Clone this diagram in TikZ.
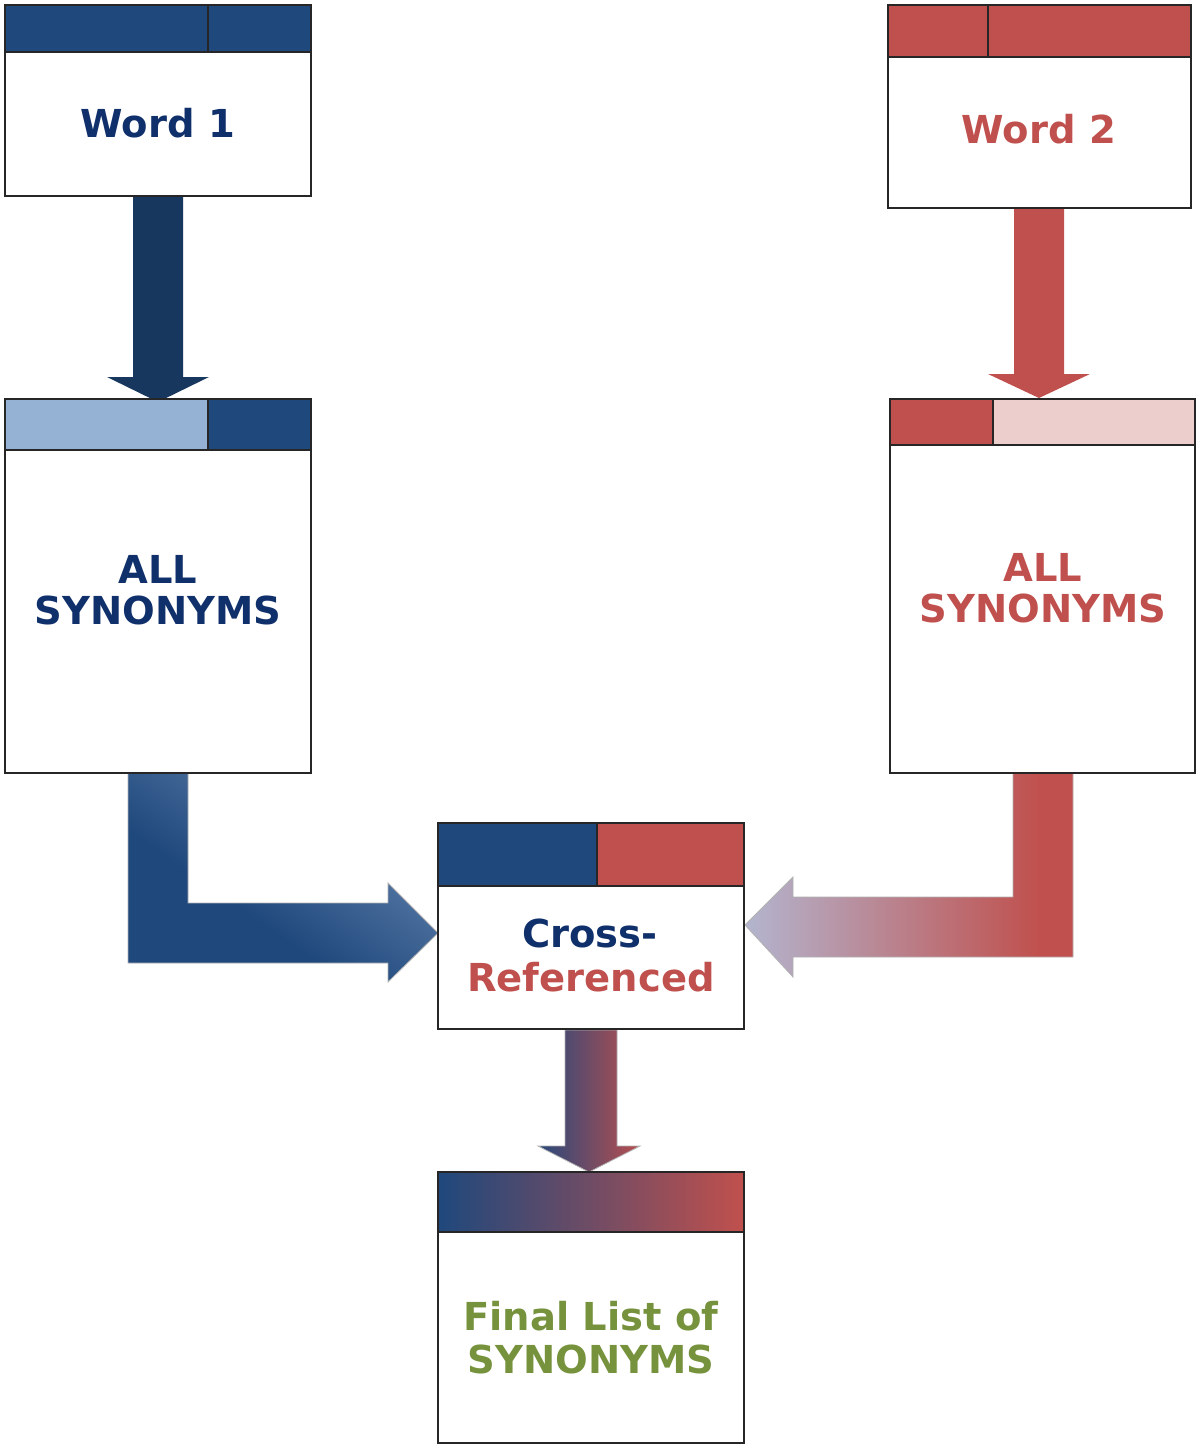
\documentclass[tikz,border=0pt]{standalone}
\usepackage{fontspec}
\setmainfont{DejaVu Sans}
\definecolor{hblue}{HTML}{1F487C}
\definecolor{navyarrow}{HTML}{17375E}
\definecolor{hred}{HTML}{C0504D}
\definecolor{lblue}{HTML}{95B1D3}
\definecolor{lpink}{HTML}{ECCECC}
\definecolor{tnavy}{HTML}{10306B}
\definecolor{tgreen}{HTML}{76923C}
\definecolor{blight}{HTML}{4C709E}
\definecolor{lav}{HTML}{B3B5CF}
\definecolor{mblue}{HTML}{28497C}
\definecolor{mred}{HTML}{B84E4E}
\pgfdeclarehorizontalshading{blueL}{100bp}{color(0bp)=(hblue); color(25bp)=(hblue); color(40bp)=(hblue); color(62bp)=(blight); color(100bp)=(blight)}
\pgfdeclarehorizontalshading{redL}{100bp}{color(0bp)=(lav); color(25bp)=(lav); color(70bp)=(hred); color(100bp)=(hred)}
\pgfdeclarehorizontalshading{midL}{100bp}{color(0bp)=(mblue); color(25bp)=(mblue); color(75bp)=(mred); color(100bp)=(mred)}
\pgfdeclarehorizontalshading{hdrL}{100bp}{color(0bp)=(hblue); color(25bp)=(hblue); color(75bp)=(hred); color(100bp)=(hred)}
\begin{document}
\begin{tikzpicture}[x=1pt,y=-1pt,
  boxline/.style={draw=black!85, line width=1.6pt},
  arrowedge/.style={draw=black!30, line width=0.8pt},
  lbl/.style={font=\fontsize{38.5}{41}\selectfont\bfseries, anchor=base, inner sep=0pt}]
\fill[white] (0,0) rectangle (1197,1445);
\useasboundingbox (0,0) rectangle (1197,1445);
% arrows
\path[fill=navyarrow] (133,196) -- (183,196) -- (183,377) -- (209,377) -- (158,402) -- (107,377) -- (133,377) -- cycle;
\path[fill=hred] (1014,208) -- (1064,208) -- (1064,374) -- (1090,374) -- (1039,398) -- (988,374) -- (1014,374) -- cycle;
\shade[shading=blueL, shading angle=55, arrowedge] (128,773) -- (188,773) -- (188,903) -- (388,903) -- (388,883) -- (438,933) -- (388,982) -- (388,963) -- (128,963) -- cycle;
\shade[shading=redL, arrowedge] (1013,773) -- (1073,773) -- (1073,957) -- (793,957) -- (793,977) -- (745,925) -- (793,877) -- (793,897) -- (1013,897) -- cycle;
\shade[shading=midL, arrowedge] (565,1030) -- (617,1030) -- (617,1146) -- (640,1146) -- (589,1172) -- (538,1146) -- (565,1146) -- cycle;
% box 1
\fill[white] (5,5) rectangle (311,196);
\fill[hblue] (5,5) rectangle (311,52);
\draw[boxline] (5,5) rectangle (311,196) (5,52) -- (311,52) (208,5) -- (208,52);
% box 2
\fill[white] (888,5) rectangle (1191,208);
\fill[hred] (888,5) rectangle (1191,57);
\draw[boxline] (888,5) rectangle (1191,208) (888,57) -- (1191,57) (988,5) -- (988,57);
% box 3
\fill[white] (5,399) rectangle (311,773);
\fill[lblue] (5,399) rectangle (208,450);
\fill[hblue] (208,399) rectangle (311,450);
\draw[boxline] (5,399) rectangle (311,773) (5,450) -- (311,450) (208,399) -- (208,450);
% box 4
\fill[white] (890,399) rectangle (1195,773);
\fill[hred] (890,399) rectangle (993,445);
\fill[lpink] (993,399) rectangle (1195,445);
\draw[boxline] (890,399) rectangle (1195,773) (890,445) -- (1195,445) (993,399) -- (993,445);
% box 5
\fill[white] (438,823) rectangle (744,1029);
\fill[hblue] (438,823) rectangle (597,886);
\fill[hred] (597,823) rectangle (744,886);
\draw[boxline] (438,823) rectangle (744,1029) (438,886) -- (744,886) (597,823) -- (597,886);
% box 6
\fill[white] (438,1172) rectangle (744,1443);
\shade[shading=hdrL] (438,1172) rectangle (744,1232);
\draw[boxline] (438,1172) rectangle (744,1443) (438,1232) -- (744,1232);
% labels
\node[lbl, text=tnavy] (t1) at (158,137) {Word 1};
\node[lbl, text=hred] (t2) at (1039,143) {Word 2};
\node[lbl, text=tnavy] (t3a) at (158,583) {ALL};
\node[lbl, text=tnavy] (t3b) at (158,624) {SYNONYMS};
\node[lbl, text=hred] (t4a) at (1043,581) {ALL};
\node[lbl, text=hred] (t4b) at (1043,622) {SYNONYMS};
\node[lbl, text=tnavy] (t5a) at (590,947) {Cross-};
\node[lbl, text=hred] (t5b) at (591,991) {Referenced};
\node[lbl, text=tgreen] (t6a) at (591,1330) {Final List of};
\node[lbl, text=tgreen] (t6b) at (591,1373) {SYNONYMS};
\end{tikzpicture}
\end{document}
